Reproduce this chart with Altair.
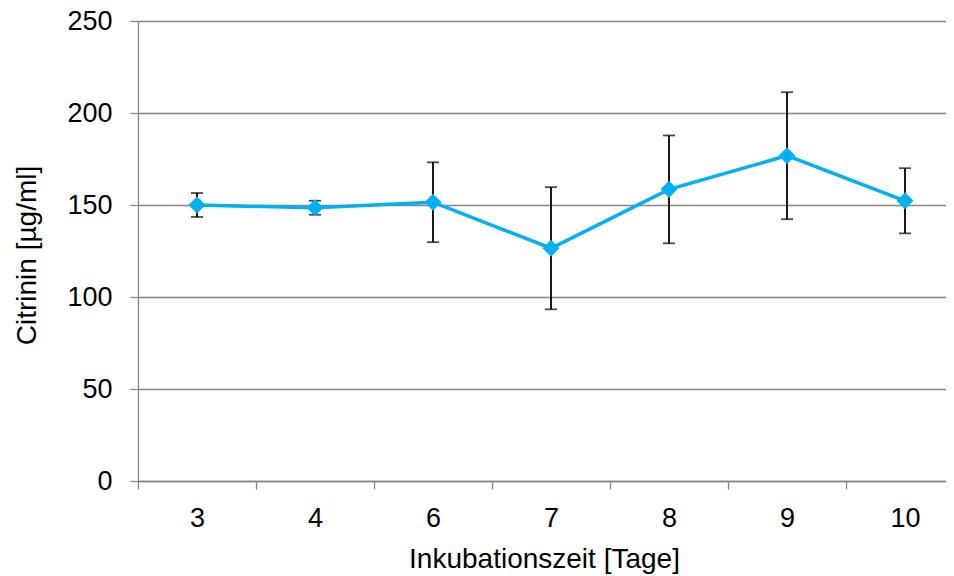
import altair as alt
import pandas as pd

days = ["3", "4", "6", "7", "8", "9", "10"]
mean = [150.0, 148.5, 151.5, 126.5, 158.5, 176.8, 152.3]
sd = [6.5, 3.8, 21.7, 33.2, 29.3, 34.5, 17.7]

df = pd.DataFrame({"day": days, "mean": mean, "sd": sd})
df["lo"] = df["mean"] - df["sd"]
df["hi"] = df["mean"] + df["sd"]

FONT = "Liberation Sans"
GRID = "#868686"
LINE = "#00B0F0"
BAND = 118

x = alt.X(
    "day:N",
    sort=days,
    scale=alt.Scale(range=[0, BAND * 7], paddingInner=0, paddingOuter=0),
    axis=alt.Axis(
        title="Inkubationszeit [Tage]",
        labelAngle=0,
        labelFont=FONT,
        labelFontSize=27,
        labelColor="black",
        labelPadding=16,
        tickOffset=-BAND / 2,
        labelOffset=BAND / 2,
        tickSize=8,
        tickColor=GRID,
        tickWidth=1.3,
        domainColor=GRID,
        domainWidth=1.3,
        grid=False,
        titleFont=FONT,
        titleFontSize=28,
        titleFontWeight="normal",
        titleColor="black",
        titleX=406,
        titleY=86,
        titleAlign="center",
        titleBaseline="alphabetic",
    ),
)

y_axis = alt.Axis(
    title="Citrinin [µg/ml]",
    values=[0, 50, 100, 150, 200, 250],
    labelFont=FONT,
    labelFontSize=27,
    labelColor="black",
    labelPadding=18,
    tickSize=8,
    tickColor=GRID,
    tickWidth=1.3,
    domainColor=GRID,
    domainWidth=1.3,
    grid=True,
    gridColor=GRID,
    gridWidth=1.3,
    titleFont=FONT,
    titleFontSize=28,
    titleFontWeight="normal",
    titleColor="black",
    titleAngle=270,
    titleX=-103,
    titleY=234,
    titleAlign="center",
    titleBaseline="alphabetic",
)

y_scale = alt.Scale(domain=[0, 250], nice=False)

base = alt.Chart(df)

err = base.mark_rule(color="black", strokeWidth=1.8).encode(
    x=x,
    y=alt.Y("lo:Q", scale=y_scale, axis=y_axis),
    y2="hi:Q",
)
cap_lo = base.mark_tick(color="black", thickness=1.8, size=12).encode(
    x=x, y=alt.Y("lo:Q", scale=y_scale)
)
cap_hi = base.mark_tick(color="black", thickness=1.8, size=12).encode(
    x=x, y=alt.Y("hi:Q", scale=y_scale)
)
line = base.mark_line(color=LINE, strokeWidth=3.5).encode(
    x=x, y=alt.Y("mean:Q", scale=y_scale)
)
pts = base.mark_point(
    shape="diamond", filled=True, size=290, color=LINE, opacity=1
).encode(x=x, y=alt.Y("mean:Q", scale=y_scale))

chart = (
    alt.layer(err, cap_lo, cap_hi, line, pts)
    .properties(
        width=808,
        height=460,
        autosize=alt.AutoSizeParams(type="none"),
        padding={"left": 130, "top": 13, "right": 0, "bottom": 95},
    )
    .configure_view(stroke=None)
    .configure(background="white")
)

chart.save("out.html", embed_options={"renderer": "svg", "actions": False})
